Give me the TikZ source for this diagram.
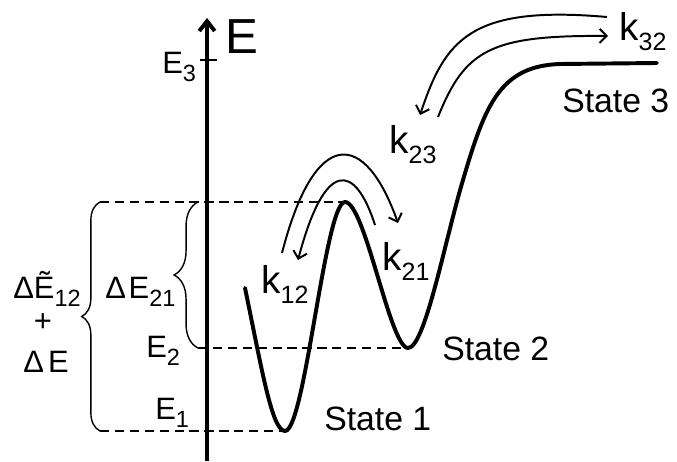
\documentclass[tikz,border=0pt]{standalone}
\usepackage{fontspec}
\setmainfont{Liberation Sans}
\usetikzlibrary{arrows.meta,decorations.pathreplacing}
% lowered subscript: #1 = font size, #2 = text
\newcommand{\lo}[2]{\raisebox{-0.26em}{\fontsize{#1}{#1}\selectfont #2}}

\begin{document}
\begin{tikzpicture}[x=0.025cm, y=-0.025cm,
  >={Straight Barb[length=5pt,width=10pt]},
  well/.style={line width=2.8pt, line cap=round, line join=round},
  rate/.style={line width=1.4pt, ->},
  level/.style={line width=2pt, dash pattern=on 6.6pt off 4pt},
  bigbrace/.style={line width=1pt, decorate, decoration={brace, amplitude=#1}},
  txt/.style={inner sep=0pt, anchor=base west, font=\fontsize{22}{22}\selectfont},
  ktxt/.style={inner sep=0pt, anchor=base west, font=\fontsize{27.5}{27.5}\selectfont},
  state/.style={inner sep=0pt, anchor=base west, font=\fontsize{24}{24}\selectfont}]
  \useasboundingbox (0,0) rectangle (677,461);
  % key points of the energy curve
  \coordinate (start) at (245,288);
  \coordinate (min1) at (285,431);
  \coordinate (peak) at (345,202);
  \coordinate (min2) at (408,348);
  \coordinate (plat) at (657,63);
  % brace ends
  \coordinate (bigtop) at (100,202);
  \coordinate (bigbot) at (100,431);
  \coordinate (smalltop) at (198,202);
  \coordinate (smallbot) at (198,348);
  % levels
  \draw[level] (bigtop) -- (peak);
  \draw[level] (smallbot) -- (min2);
  \draw[level] (bigbot) -- (min1);
  % axis
  \draw[line width=2.8pt, -{Straight Barb[length=7pt,width=11pt]}] (207,461) -- (207,18);
  \draw[line width=2pt] (200,60) -- (217,60);
  \node[txt, font=\fontsize{35}{35}\selectfont] (lblE) at (225,53) {E};
  \node[txt] (lblEthree) at (162,73) {E\lo{16.7}{3}};
  \node[txt] (lblEtwo) at (146,357) {E\lo{16.7}{2}};
  \node[txt] (lblEone) at (155,419) {E\lo{16.7}{1}};
  % braces
  \draw[bigbrace=13pt] (bigbot) -- (bigtop);
  \draw[bigbrace=17pt] (smallbot) -- (smalltop);
  \node[txt] (lbldEtwoone) at (105,298) {Δ\kern2pt E\lo{16.7}{21}};
  \node[txt] (lbldEt) at (13,298) {ΔẼ\lo{16.7}{12}};
  \node[txt, anchor=base] (lblplus) at (43,331) {+};
  \node[txt] (lbldE) at (23,372) {Δ\kern3pt E};
  % energy curve
  \draw[well] (start) .. controls (262,370) and (272,431) .. (min1)
    .. controls (305,431) and (325,202) .. (peak)
    .. controls (365,202) and (390,348) .. (min2)
    .. controls (425,348) and (445,240) .. (463,180)
    .. controls (485,105) and (500,66) .. (560,64) -- (plat);
  % rate arrows
  \draw[rate] (282,253) .. controls (315,125) and (365,130) .. (398,223);
  \draw[rate] (375,225) .. controls (355,163) and (325,158) .. (298,260);
  \draw[rate] (607,17) .. controls (470,5) and (445,40) .. (420,115);
  \draw[rate] (438,117) .. controls (465,50) and (490,35) .. (608,36);
  \node[ktxt] (kot) at (261,293) {k\lo{17.8}{12}};
  \node[ktxt] (kto) at (382,270) {k\lo{17.8}{21}};
  \node[ktxt] (ktth) at (389,153) {k\lo{17.8}{23}};
  \node[ktxt] (ktht) at (619,40) {k\lo{17.8}{32}};
  % states
  \node[state] (sone) at (324,430) {State 1};
  \node[state] (stwo) at (442,360) {State 2};
  \node[state] (sthree) at (562,112) {State 3};
\end{tikzpicture}
\end{document}
